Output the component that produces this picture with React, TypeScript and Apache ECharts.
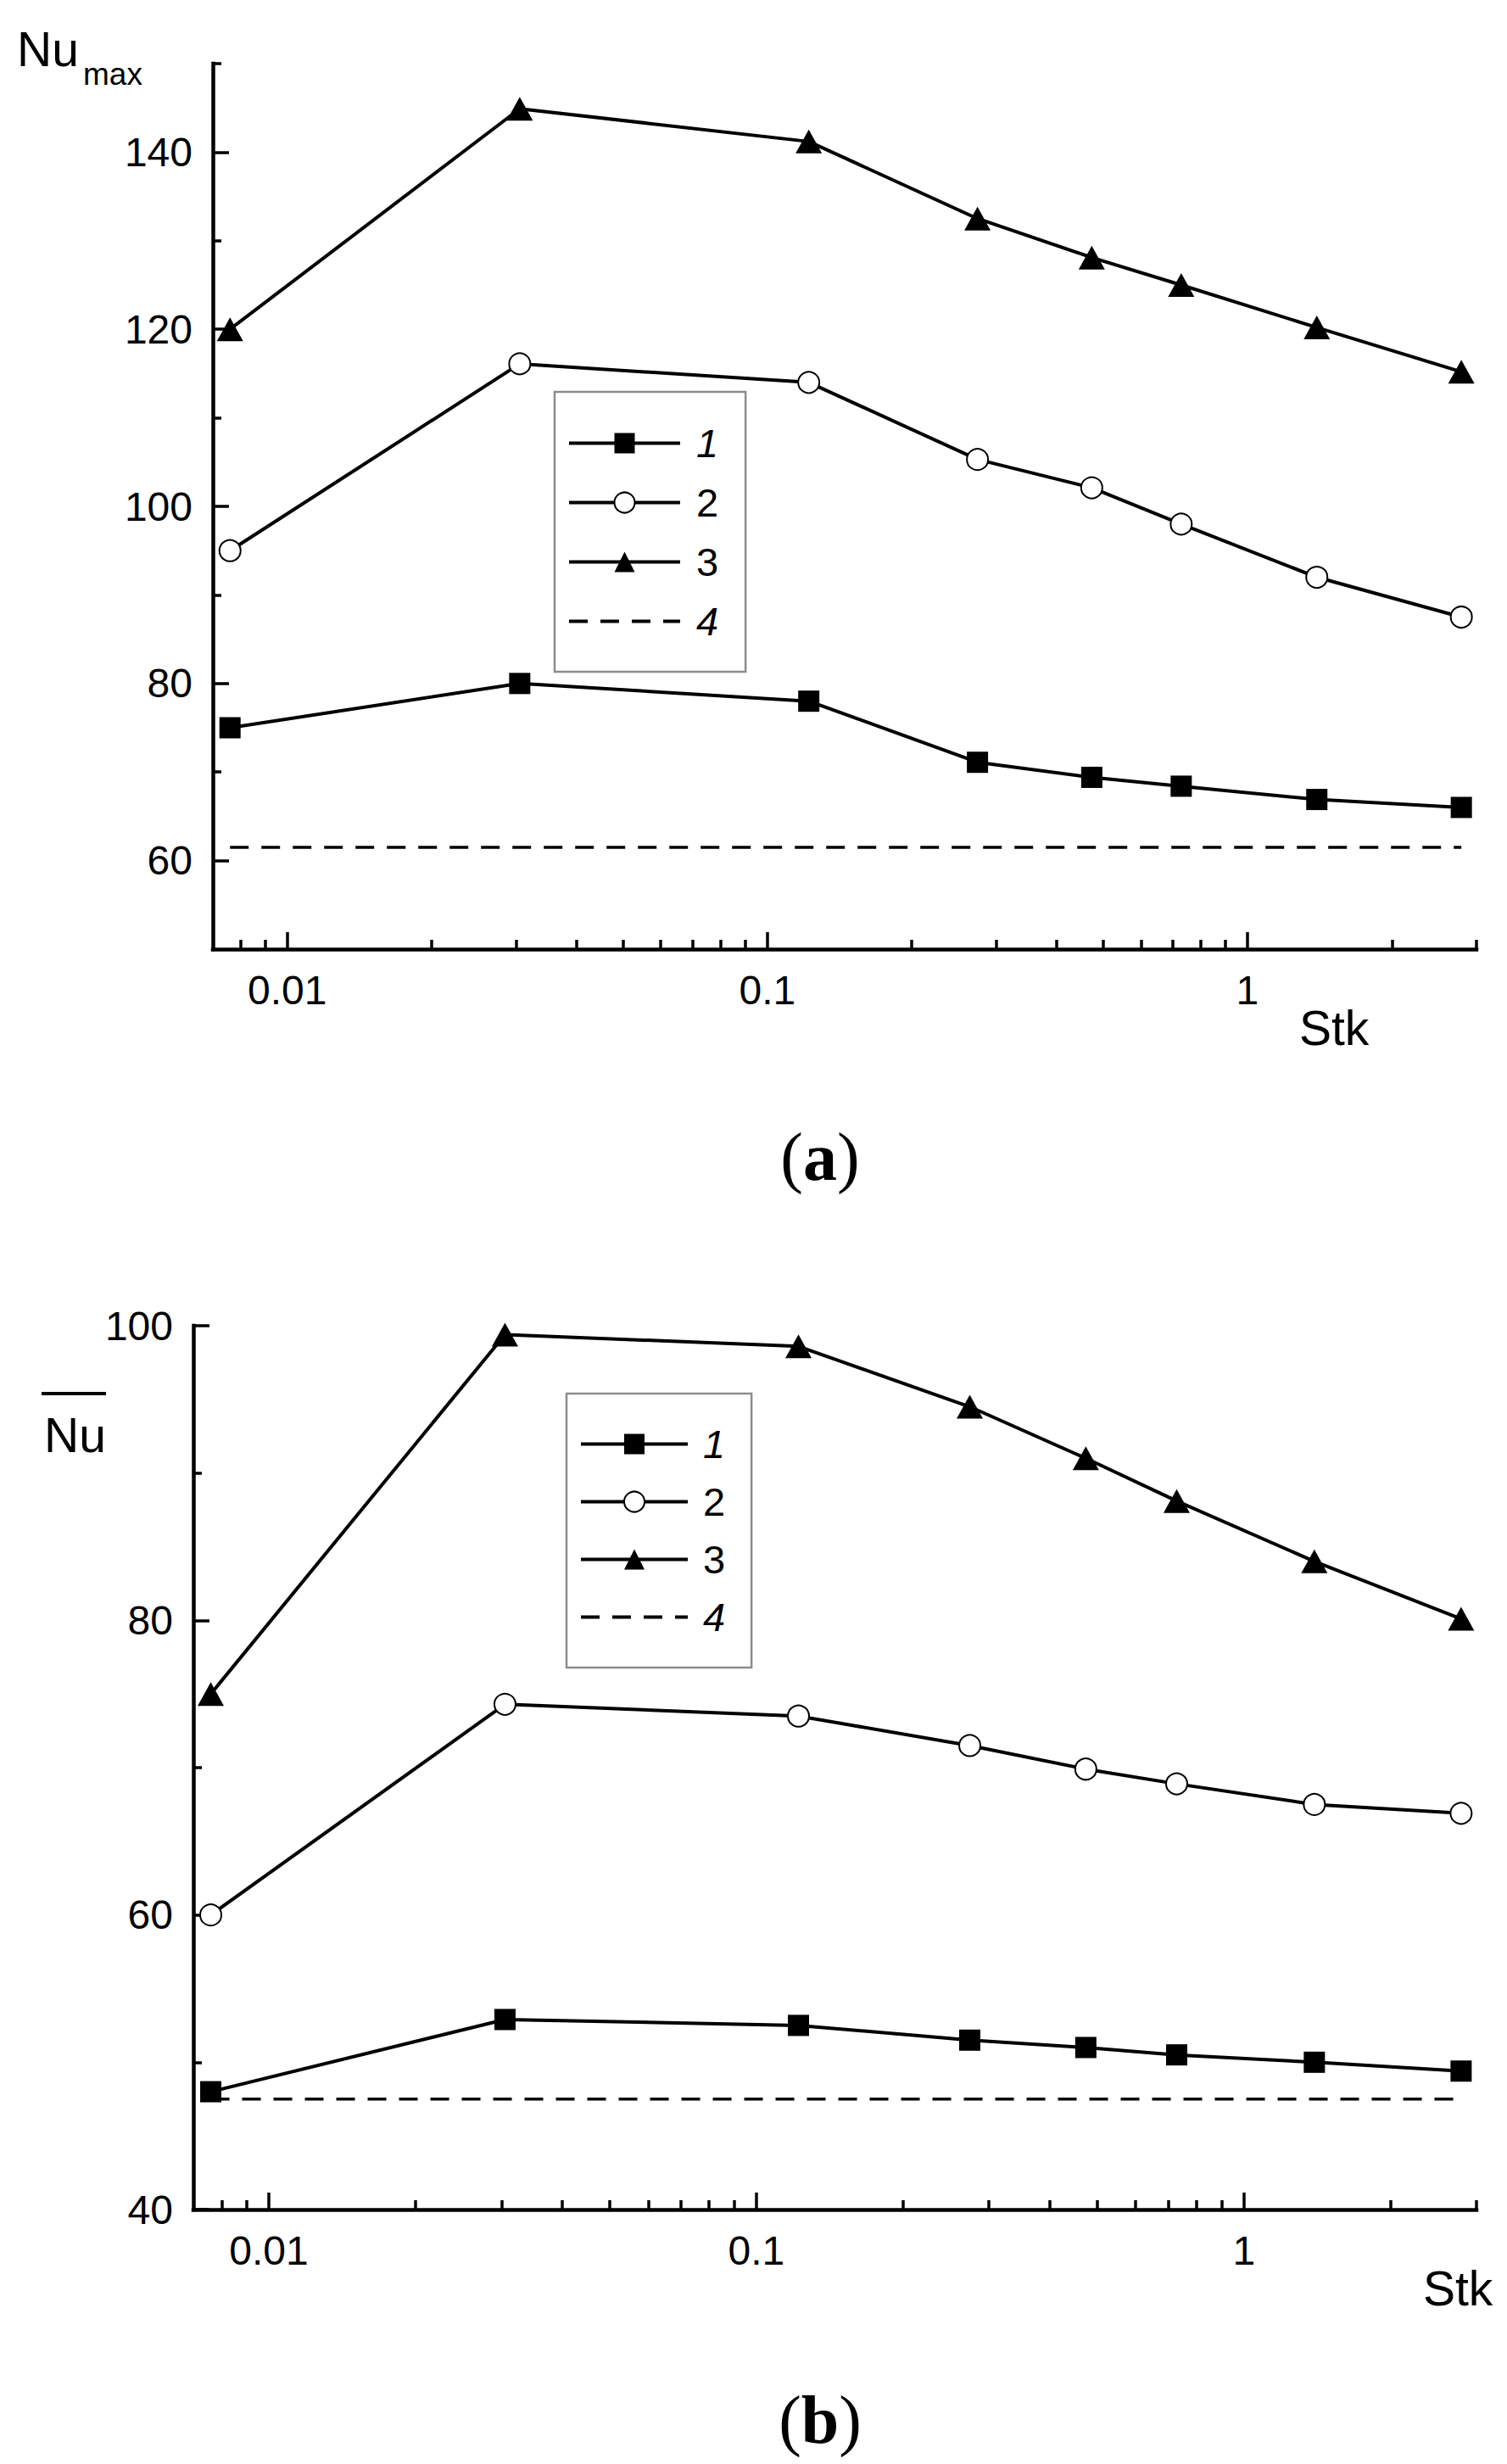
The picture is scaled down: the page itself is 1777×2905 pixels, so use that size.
import React, { useEffect, useRef } from "react";
import * as echarts from "echarts";

// ---- data ----
const stk = [0.0076, 0.0305, 0.122, 0.274, 0.474, 0.728, 1.395, 2.79];

const maxNu1 = [75, 80, 78, 71.1, 69.4, 68.4, 66.9, 66.0];
const maxNu2 = [95, 116.1, 114, 105.3, 102.1, 98, 92, 87.5];
const maxNu3 = [120, 144.9, 141.2, 132.5, 128.1, 125, 120.2, 115.2];
const maxNu4 = 61.5;

const avgNu1 = [48, 52.9, 52.5, 51.5, 51, 50.5, 50, 49.4];
const avgNu2 = [60, 74.3, 73.5, 71.5, 69.9, 68.9, 67.5, 66.9];
const avgNu3 = [75, 99.4, 98.6, 94.5, 91, 88.1, 84, 80.1];
const avgNu4 = 47.5;

const legendNames = ["1", "2", "3", "4"];

const xMajorTicks = [0.01, 0.1, 1];
const xMinorTicks = [
  0.008, 0.009, 0.02, 0.03, 0.04, 0.05, 0.06, 0.07, 0.08, 0.09, 0.2, 0.3, 0.4,
  0.5, 0.6, 0.7, 0.8, 0.9, 2, 3,
];
const yTopMajor = [60, 80, 100, 120, 140];
const yTopMinor = [70, 90, 110, 130, 150];
const yBotMajor = [40, 60, 80, 100];
const yBotMinor = [50, 70, 90];

const FONT = "Liberation Sans, Arial, sans-serif";
const SERIF = "Liberation Serif, Times New Roman, serif";
const TICK_FS = 48;
const LEG_FS = 47;

const fmtNum = (v: number) => String(parseFloat(Number(v).toPrecision(6)));

function xAxes(grid: number) {
  return [
    {
      type: "log",
      logBase: 10,
      gridIndex: grid,
      min: 0.007,
      max: 3,
      position: "bottom",
      axisLine: { show: true, onZero: false, lineStyle: { color: "#000", width: 4.5, cap: "square" } },
      axisTick: { show: true, inside: true, length: 20, customValues: xMajorTicks, lineStyle: { color: "#000", width: 3.5 } },
      axisLabel: { show: true, customValues: xMajorTicks, margin: 24, fontSize: TICK_FS, fontFamily: FONT, color: "#000", formatter: fmtNum },
      splitLine: { show: false },
      minorTick: { show: false },
    },
    {
      type: "log",
      logBase: 10,
      gridIndex: grid,
      min: 0.007,
      max: 3,
      position: "bottom",
      axisLine: { show: false, onZero: false },
      axisTick: { show: true, inside: true, length: 11, customValues: xMinorTicks, lineStyle: { color: "#000", width: 3.5 } },
      axisLabel: { show: false },
      splitLine: { show: false },
      minorTick: { show: false },
    },
  ];
}

function yAxes(grid: number, min: number, max: number, major: number[], minor: number[]) {
  return [
    {
      type: "value",
      gridIndex: grid,
      min,
      max,
      position: "left",
      axisLine: { show: true, onZero: false, lineStyle: { color: "#000", width: 4.5, cap: "square" } },
      axisTick: { show: true, inside: true, length: 19, customValues: major, lineStyle: { color: "#000", width: 3.5 } },
      axisLabel: { show: true, customValues: major, margin: 24, fontSize: TICK_FS, fontFamily: FONT, color: "#000", formatter: fmtNum },
      splitLine: { show: false },
    },
    {
      type: "value",
      gridIndex: grid,
      min,
      max,
      position: "left",
      axisLine: { show: false, onZero: false },
      axisTick: { show: true, inside: true, length: 10, customValues: minor, lineStyle: { color: "#000", width: 3.5 } },
      axisLabel: { show: false },
      splitLine: { show: false },
    },
  ];
}

function seriesFor(xi: number, yi: number, s1: number[], s2: number[], s3: number[], s4: number) {
  const pts = (vals: number[]) => stk.map((s, i) => [s, vals[i]]);
  const base = {
    type: "line",
    xAxisIndex: xi,
    yAxisIndex: yi,
    showSymbol: true,
    lineStyle: { color: "#000", width: 4 },
    itemStyle: { color: "#000" },
    silent: true,
  };
  return [
    { ...base, name: legendNames[0], data: pts(s1), symbol: "rect", symbolSize: 25, z: 4 },
    { ...base, name: legendNames[1], data: pts(s2), symbol: "emptyCircle", symbolSize: 25, itemStyle: { color: "#000", borderWidth: 2 }, z: 4 },
    { ...base, name: legendNames[2], data: pts(s3), symbol: "triangle", symbolSize: [31, 28], z: 4 },
    {
      ...base,
      name: legendNames[3],
      data: [
        [stk[0], s4],
        [stk[stk.length - 1], s4],
      ],
      symbol: "none",
      showSymbol: false,
      lineStyle: { color: "#000", width: 3.5, type: [22, 15] },
      z: 3,
    },
  ];
}

function legendFor(left: number, top: number, itemWidth: number, itemGap: number, padding: number[], textPad: number) {
  return {
    show: true,
    orient: "vertical",
    left,
    top,
    itemWidth,
    itemHeight: 30,
    itemGap,
    padding,
    selectedMode: false,
    borderColor: "#8c8c8c",
    borderWidth: 2.5,
    backgroundColor: "#fff",
    lineStyle: { width: 4 },
    data: legendNames.map((n) =>
      n === "4" ? { name: n, itemStyle: { color: "rgba(0,0,0,0)", borderWidth: 0, borderColor: "rgba(0,0,0,0)" } } : { name: n }
    ),
    formatter: (name: string) => (name === "1" || name === "4" ? `{i|${name}}` : `{n|${name}}`),
    textStyle: {
      fontSize: LEG_FS,
      fontFamily: FONT,
      color: "#000",
      padding: [0, 0, 0, textPad],
      rich: {
        i: { fontSize: LEG_FS, fontFamily: FONT, fontStyle: "italic", color: "#000" },
        n: { fontSize: LEG_FS, fontFamily: FONT, color: "#000" },
      },
    },
  };
}

export default function App() {
  const ref = useRef<HTMLDivElement>(null);
  useEffect(() => {
    document.body.style.margin = "0";
    if (!ref.current) return;
    const chart = echarts.init(ref.current, undefined, { renderer: "svg" });
    const option: any = {
      animation: false,
      backgroundColor: "#fff",
      grid: [
        { left: 251, top: 75, width: 1490, height: 1044, containLabel: false },
        { left: 228, top: 1563, width: 1513, height: 1042, containLabel: false },
      ],
      xAxis: [...xAxes(0), ...xAxes(1)],
      yAxis: [...yAxes(0, 50, 150, yTopMajor, yTopMinor), ...yAxes(1, 40, 100, yBotMajor, yBotMinor)],
      legend: [
        legendFor(654, 462, 131, 23, [37, 32, 36, 15], 14),
        legendFor(668, 1643, 126, 21, [36, 31, 36, 15], 13),
      ],
      series: [
        ...seriesFor(0, 0, maxNu1, maxNu2, maxNu3, maxNu4),
        ...seriesFor(2, 2, avgNu1, avgNu2, avgNu3, avgNu4),
      ],
      graphic: [
        { type: "text", x: 20, y: 57.6, style: { text: "Nu", fontSize: 57, fontFamily: FONT, fill: "#000", align: "left", verticalAlign: "middle" } },
        { type: "text", x: 98, y: 87, style: { text: "max", fontSize: 37, fontFamily: FONT, fill: "#000", align: "left", verticalAlign: "middle" } },
        { type: "text", x: 1532, y: 1211.6, style: { text: "Stk", fontSize: 57, fontFamily: FONT, fill: "#000", align: "left", verticalAlign: "middle" } },
        {
          type: "text",
          x: 967,
          y: 1364,
          style: {
            text: "{p|(}{b|a}{p|)}",
            align: "center",
            verticalAlign: "middle",
            fill: "#000",
            rich: {
              p: { fontSize: 80, fontFamily: SERIF, fill: "#000" },
              b: { fontSize: 80, fontFamily: SERIF, fontWeight: "bold", fill: "#000" },
            },
          },
        },
        { type: "text", x: 52, y: 1691.6, style: { text: "Nu", fontSize: 57, fontFamily: FONT, fill: "#000", align: "left", verticalAlign: "middle" } },
        { type: "line", shape: { x1: 49, y1: 1643, x2: 125, y2: 1643 }, style: { stroke: "#000", lineWidth: 4 } },
        { type: "text", x: 1678, y: 2697.6, style: { text: "Stk", fontSize: 57, fontFamily: FONT, fill: "#000", align: "left", verticalAlign: "middle" } },
        {
          type: "text",
          x: 967,
          y: 2853,
          style: {
            text: "{p|(}{b|b}{p|)}",
            align: "center",
            verticalAlign: "middle",
            fill: "#000",
            rich: {
              p: { fontSize: 80, fontFamily: SERIF, fill: "#000" },
              b: { fontSize: 80, fontFamily: SERIF, fontWeight: "bold", fill: "#000" },
            },
          },
        },
      ],
    };
    chart.setOption(option);
    return () => {
      chart.dispose();
    };
  }, []);
  return <div ref={ref} style={{ width: 1777, height: 2905 }} />;
}
